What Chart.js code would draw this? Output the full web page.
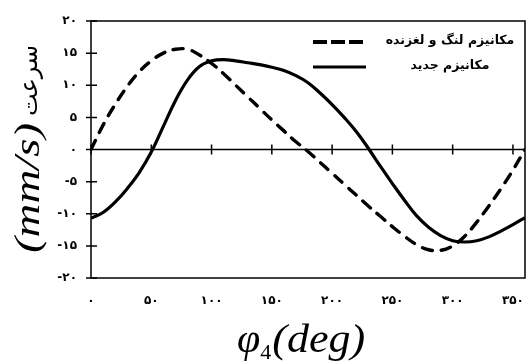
<!DOCTYPE html>
<html>
<head>
<meta charset="utf-8">
<script src="https://cdn.jsdelivr.net/npm/chart.js@4.4.0/dist/chart.umd.min.js"></script>
<style>
  html, body { margin: 0; padding: 0; background: #fff; }
  #wrap { width: 526px; height: 362px; }
</style>
</head>
<body>
<div id="wrap"><canvas id="chart"></canvas></div>
<script>
const angles = [0, 10, 20, 30, 40, 50, 60, 70, 80, 90, 100, 110, 120, 130, 140, 150, 160, 170, 180,
  190, 200, 210, 220, 230, 240, 250, 260, 270, 280, 290, 300, 310, 320, 330, 340, 350, 360];

// crank-slider mechanism (dashed)
const crankSlider = [0, 3.8, 7.0, 9.8, 12.1, 13.8, 15.0, 15.6, 15.6, 14.7, 13.4, 11.8, 10.0, 8.2, 6.4, 4.6, 2.9, 1.2, -0.3,
  -2.0, -3.7, -5.4, -7.1, -8.8, -10.4, -12.0, -13.5, -14.8, -15.6, -15.7, -15.0, -13.5, -11.3, -8.8, -6.1, -3.2, 0];

// new mechanism (solid)
const newMechanism = [-10.7, -9.8, -8.2, -6.1, -3.6, -0.4, 3.6, 7.6, 10.8, 12.9, 13.8, 14.0, 13.8, 13.5, 13.2, 12.8, 12.3, 11.5, 10.4,
  8.8, 7.0, 5.0, 2.8, 0.2, -2.6, -5.3, -7.9, -10.3, -12.1, -13.4, -14.2, -14.4, -14.2, -13.6, -12.7, -11.7, -10.6];

const seriesNames = ['مکانیزم لنگ و لغزنده', 'مکانیزم جدید'];
const xTicks = [0, 50, 100, 150, 200, 250, 300, 350];
const yTicks = [-20, -15, -10, -5, 0, 5, 10, 15, 20];

const toPersian = (n) => String(n).replace(/\d/g, (d) => '۰۱۲۳۴۵۶۷۸۹'[d]);

const frame = {
  id: 'frame',
  beforeDatasetsDraw(chart) {
    const { ctx, chartArea: a, scales: { x, y } } = chart;
    const y0 = y.getPixelForValue(0);
    ctx.save();
    ctx.strokeStyle = '#000';
    ctx.lineWidth = 1.5;
    ctx.strokeRect(a.left, a.top, a.right - a.left, a.bottom - a.top);
    ctx.beginPath();
    ctx.moveTo(a.left, y0);
    ctx.lineTo(a.right, y0);
    yTicks.forEach((v) => {
      const p = y.getPixelForValue(v);
      ctx.moveTo(a.left - 5, p);
      ctx.lineTo(a.left + 6, p);
    });
    xTicks.forEach((v) => {
      const p = x.getPixelForValue(v);
      ctx.moveTo(p, y0 - 5);
      ctx.lineTo(p, y0 + 5);
    });
    ctx.stroke();
    ctx.restore();
  },
  afterDraw(chart) {
    const { ctx, chartArea: a } = chart;
    ctx.save();
    ctx.fillStyle = '#000';

    // legend, top right inside the plot
    const legendDash = [[14, 4], []];
    chart.data.datasets.forEach((ds, i) => {
      const ly = a.top + 21 + i * 25;
      ctx.beginPath();
      ctx.lineWidth = i === 0 ? 4 : 3;
      ctx.setLineDash(legendDash[i]);
      ctx.moveTo(313, ly);
      ctx.lineTo(366, ly);
      ctx.stroke();
      ctx.setLineDash([]);
      ctx.font = 'bold 12.5px "DejaVu Sans"';
      ctx.textAlign = 'center';
      ctx.textBaseline = 'middle';
      ctx.fillText(ds.label, 450, ly - 1);
    });

    // y axis title, rotated
    ctx.save();
    ctx.translate(30, 253);
    ctx.rotate(-Math.PI / 2);
    ctx.textAlign = 'left';
    ctx.textBaseline = 'middle';
    ctx.font = 'italic 36px "Liberation Serif"';
    const unitW = ctx.measureText('(mm/s)').width * 1.3;
    ctx.save();
    ctx.scale(1.3, 1);
    ctx.fillText('(mm/s)', 0, 0);
    ctx.restore();
    ctx.font = '24px "DejaVu Sans"';
    ctx.fillText('سرعت', unitW + 7, 1);
    ctx.restore();

    // x axis title
    ctx.textAlign = 'left';
    ctx.textBaseline = 'alphabetic';
    let tx = 237;
    const base = 352;
    ctx.font = 'italic 42px "Liberation Serif"';
    ctx.fillText('φ', tx, base);
    tx += ctx.measureText('φ').width;
    ctx.font = '22px "Liberation Serif"';
    ctx.fillText('4', tx, base + 7);
    tx += ctx.measureText('4').width + 1;
    ctx.font = 'italic 40px "Liberation Serif"';
    ctx.save();
    ctx.translate(tx, base);
    ctx.scale(1.1, 1);
    ctx.fillText('(deg)', 0, 0);
    ctx.restore();
    ctx.restore();
  },
};

const context = document.getElementById('chart').getContext('2d');

new Chart(context, {
  type: 'line',
  data: {
    datasets: [
      {
        label: seriesNames[0],
        data: angles.map((a, i) => ({ x: a, y: crankSlider[i] })),
        borderColor: '#000',
        borderWidth: 3.4,
        borderDash: [10, 9],
        borderCapStyle: 'round',
        pointRadius: 0,
        tension: 0.4,
      },
      {
        label: seriesNames[1],
        data: angles.map((a, i) => ({ x: a, y: newMechanism[i] })),
        borderColor: '#000',
        borderWidth: 3.2,
        pointRadius: 0,
        tension: 0.4,
      },
    ],
  },
  options: {
    responsive: true,
    maintainAspectRatio: false,
    animation: false,
    layout: { padding: { top: 21, right: 1, left: 0, bottom: 0 } },
    plugins: {
      legend: { display: false },
      tooltip: { enabled: false },
    },
    scales: {
      x: {
        type: 'linear',
        min: 0,
        max: 360,
        afterBuildTicks: (s) => { s.ticks = xTicks.map((v) => ({ value: v })); },
        afterFit: (s) => { s.height = 84; s.paddingLeft = 0; s.paddingRight = 0; },
        grid: { display: false, drawTicks: false },
        border: { display: false },
        ticks: {
          padding: 16,
          maxRotation: 0,
          color: '#000',
          font: { family: 'DejaVu Sans', size: 12, weight: 'bold' },
          callback: (v) => toPersian(v),
        },
      },
      y: {
        min: -20,
        max: 20,
        afterBuildTicks: (s) => { s.ticks = yTicks.map((v) => ({ value: v })); },
        afterFit: (s) => { s.width = 91; s.paddingTop = 0; s.paddingBottom = 0; },
        grid: { display: false, drawTicks: false },
        border: { display: false },
        ticks: {
          padding: 14,
          color: '#000',
          font: { family: 'DejaVu Sans', size: 12, weight: 'bold' },
          callback: (v) => toPersian(v),
        },
      },
    },
  },
  plugins: [frame],
});
</script>
</body>
</html>
